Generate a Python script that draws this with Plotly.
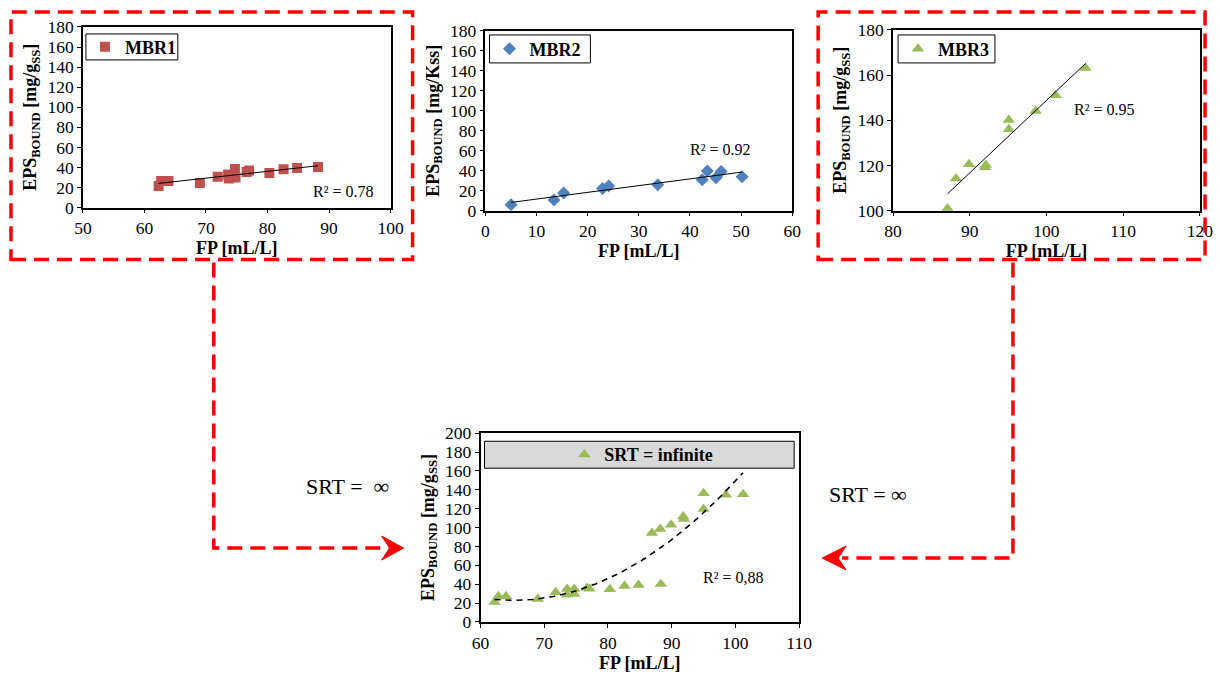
import numpy as np
import plotly.graph_objects as go

W, H = 1220, 674
# map reference-picture pixel positions to paper fractions (photograph shows page inset by ~8px, scaled ~0.98)
SX, SY, OX, OY = 0.983, 0.972, 8.0, 8.0
def px(x): return ((x - OX) / SX) / W
def py(y): return 1 - ((y - OY) / SY) / H

FONT = "Times New Roman, Liberation Serif, serif"

# ---------------- data ----------------
mbr1_fp = [62.3, 62.7, 63.9, 69.0, 71.9, 73.6, 73.7, 74.7, 74.8, 76.6, 77.0, 80.3, 82.6, 84.8, 88.2]
mbr1_eps = [21.6, 26.6, 26.6, 24.6, 30.9, 33.0, 29.0, 38.5, 30.0, 35.5, 37.0, 34.5, 38.2, 39.5, 40.5]

mbr2_fp = [5.0, 13.4, 15.3, 22.9, 24.1, 33.7, 42.4, 43.4, 45.1, 46.1, 50.2]
mbr2_eps = [6.0, 10.6, 17.6, 22.3, 24.6, 25.9, 30.9, 39.6, 32.9, 39.3, 33.9]

mbr3_fp = [87.1, 88.2, 89.9, 92.1, 92.0, 95.1, 95.1, 98.6, 101.2, 105.1]
mbr3_eps = [101.0, 114.2, 120.5, 120.2, 119.2, 140.1, 136.0, 144.1, 151.1, 163.2]

srt_fp = [62.2, 62.8, 64.0, 69.0, 71.8, 73.6, 73.6, 74.7, 74.7, 76.7, 77.1, 80.3, 82.6, 84.8, 88.3,
          86.9, 88.2, 89.9, 91.8, 91.9, 95.0, 95.0, 98.5, 101.2]
srt_eps = [21.2, 27.2, 27.2, 24.3, 31.4, 34.9, 28.9, 34.9, 29.6, 36.0, 35.3, 34.6, 38.1, 39.2, 40.2,
           94.2, 98.4, 103.0, 111.8, 109.0, 136.5, 119.6, 134.7, 135.4]

r2_labels = ["R² = 0.78", "R² = 0.92", "R² = 0.95", "R² = 0,88"]

C1, C2, C3 = "#C0504D", "#4F81BD", "#9BBB59"

fig = go.Figure()

def trend(xs, ys, deg, n=60):
    c = np.polyfit(xs, ys, deg)
    xx = np.linspace(min(xs), max(xs), n)
    return xx, np.polyval(c, xx)

# MBR1
fig.add_trace(go.Scatter(x=mbr1_fp, y=mbr1_eps, mode="markers", name="<b>MBR1</b>",
                         marker=dict(symbol="square", size=10, color=C1), xaxis="x", yaxis="y", legend="legend"))
tx, ty = trend(mbr1_fp, mbr1_eps, 1)
fig.add_trace(go.Scatter(x=tx, y=ty, mode="lines", line=dict(color="black", width=1), showlegend=False,
                         xaxis="x", yaxis="y"))
# MBR2
fig.add_trace(go.Scatter(x=mbr2_fp, y=mbr2_eps, mode="markers", name="<b>MBR2</b>",
                         marker=dict(symbol="diamond", size=10, color=C2), xaxis="x2", yaxis="y2", legend="legend2"))
tx, ty = trend(mbr2_fp, mbr2_eps, 1)
fig.add_trace(go.Scatter(x=tx, y=ty, mode="lines", line=dict(color="black", width=1), showlegend=False,
                         xaxis="x2", yaxis="y2"))
# MBR3
fig.add_trace(go.Scatter(x=mbr3_fp, y=mbr3_eps, mode="markers", name="<b>MBR3</b>",
                         marker=dict(symbol="triangle-up", size=11, color=C3), xaxis="x3", yaxis="y3", legend="legend3"))
tx, ty = trend(mbr3_fp, mbr3_eps, 1)
fig.add_trace(go.Scatter(x=tx, y=ty, mode="lines", line=dict(color="black", width=1), showlegend=False,
                         xaxis="x3", yaxis="y3"))
# SRT infinite
fig.add_trace(go.Scatter(x=srt_fp, y=srt_eps, mode="markers", name="<b>SRT = infinite</b>",
                         marker=dict(symbol="triangle-up", size=11, color=C3), xaxis="x4", yaxis="y4", legend="legend4"))
tx, ty = trend(srt_fp, srt_eps, 2)
fig.add_trace(go.Scatter(x=tx, y=ty, mode="lines", line=dict(color="black", width=1.6, dash="6px,5px"),
                         showlegend=False, xaxis="x4", yaxis="y4"))

axc = dict(showline=True, linecolor="black", linewidth=1.5, mirror=True, ticks="outside", ticklen=4,
           tickcolor="black", showgrid=False, zeroline=False,
           tickfont=dict(family=FONT, size=17.5, color="black"))
xt = dict(text="<b>FP [mL/L]</b>", font=dict(family=FONT, size=18, color="black"), standoff=2)
def yt(t):
    return dict(text=t, font=dict(family=FONT, size=18, color="black"), standoff=6)
YT = "<b>EPS<sub>BOUND</sub> [mg/g<sub>SS</sub>]</b>"

plots = {
    1: dict(x=(82, 390), y=(25, 206), xr=[50, 100], yr=[0, 180], yt=YT),
    2: dict(x=(485, 792), y=(29, 209), xr=[0, 60], yr=[0, 180], yt="<b>EPS<sub>BOUND</sub> [mg/Kss]</b>"),
    3: dict(x=(893, 1200), y=(28, 209), xr=[80, 120], yr=[100, 180], yt=YT),
    4: dict(x=(480, 799), y=(432, 621), xr=[60, 110], yr=[0, 200], yt=YT),
}
layout = dict(width=W, height=H, margin=dict(l=0, r=0, t=0, b=0), plot_bgcolor="white",
              paper_bgcolor="white", showlegend=True)
for i, p in plots.items():
    s = "" if i == 1 else str(i)
    layout["xaxis" + s] = dict(axc, domain=[px(p["x"][0]), min(1, px(p["x"][1]))], range=p["xr"], dtick=10,
                               anchor="y" + s, title=xt)
    layout["yaxis" + s] = dict(axc, domain=[py(p["y"][1]), min(1, py(p["y"][0]))], range=p["yr"], dtick=20,
                               anchor="x" + s, title=yt(p["yt"]))

lf = dict(family=FONT, size=18, color="black")
def leg(x, y, xa="left"):
    return dict(x=px(x), y=py(y), xanchor=xa, yanchor="middle", bgcolor="rgba(0,0,0,0)", font=lf)
layout["legend"] = leg(84, 45)
layout["legend2"] = leg(489, 47)
layout["legend3"] = leg(898, 47)
layout["legend4"] = leg(641, 453.5, "center")
fig.update_layout(**layout)

shapes = []
# legend boxes
for (x0, y0, x1, y1, fill) in [(85, 32, 177, 58, "white"), (489, 33, 590, 61, "white"),
                               (898, 33, 995, 61, "white"), (484, 440, 794, 467, "#D9D9D9")]:
    shapes.append(dict(type="rect", xref="paper", yref="paper", x0=px(x0), x1=px(x1), y0=py(y1), y1=py(y0),
                       fillcolor=fill, line=dict(color="black", width=1), layer="above"))
RED = "#FF0000"
rd = dict(color=RED, width=3.5, dash="15px,8px")
top = 1 - 2.0 / H          # keep box tops inside the page
right = 1 - 2.0 / W        # keep right box edge inside the page
shapes.append(dict(type="rect", xref="paper", yref="paper", x0=max(px(10), 2.0 / W), x1=px(412),
                   y0=py(258), y1=min(py(6), top), line=rd))
shapes.append(dict(type="rect", xref="paper", yref="paper", x0=px(818), x1=min(px(1216), right),
                   y0=py(258), y1=min(py(6), top), line=rd))

def path(pts, close=False):
    s = "M " + " L ".join(f"{px(a):.5f},{py(b):.5f}" for a, b in pts)
    return s + (" Z" if close else "")

shapes.append(dict(type="path", xref="paper", yref="paper", path=path([(213, 261), (213, 547), (388, 547)]), line=rd))
shapes.append(dict(type="path", xref="paper", yref="paper", path=path([(1013, 261), (1013, 557), (842, 557)]), line=rd))
# arrowheads
shapes.append(dict(type="path", xref="paper", yref="paper",
                   path=path([(403, 547), (381, 535), (389, 547), (381, 559)], True),
                   fillcolor=RED, line=dict(color=RED, width=1)))
shapes.append(dict(type="path", xref="paper", yref="paper",
                   path=path([(822, 557), (846, 545), (838, 557), (846, 569)], True),
                   fillcolor=RED, line=dict(color=RED, width=1)))
fig.update_layout(shapes=shapes)

anns = [
    dict(x=92.3, y=16, xref="x", yref="y", text=r2_labels[0]),
    dict(x=46, y=61, xref="x2", yref="y2", text=r2_labels[1]),
    dict(x=107.6, y=145, xref="x3", yref="y3", text=r2_labels[2]),
    dict(x=99.7, y=47.6, xref="x4", yref="y4", text=r2_labels[3]),
]
for a in anns:
    a.update(showarrow=False, font=dict(family=FONT, size=16, color="black"))
anns.append(dict(x=px(303), y=py(500), xref="paper", yref="paper", text="SRT =  ∞", showarrow=False,
                 font=dict(family=FONT, size=22, color="black")))
anns.append(dict(x=px(909), y=py(508), xref="paper", yref="paper", text="SRT = ∞", showarrow=False,
                 font=dict(family=FONT, size=22, color="black")))
fig.update_layout(annotations=anns)

post = ("document.documentElement.style.margin='0';document.documentElement.style.overflow='hidden';"
        "document.body.style.margin='0';document.body.style.padding='0';document.body.style.overflow='hidden';"
        "var d=document.getElementById('{plot_id}');d.style.position='fixed';d.style.left='0px';d.style.top='0px';")
fig.write_html("out.html", config={"displayModeBar": False}, post_script=post)
